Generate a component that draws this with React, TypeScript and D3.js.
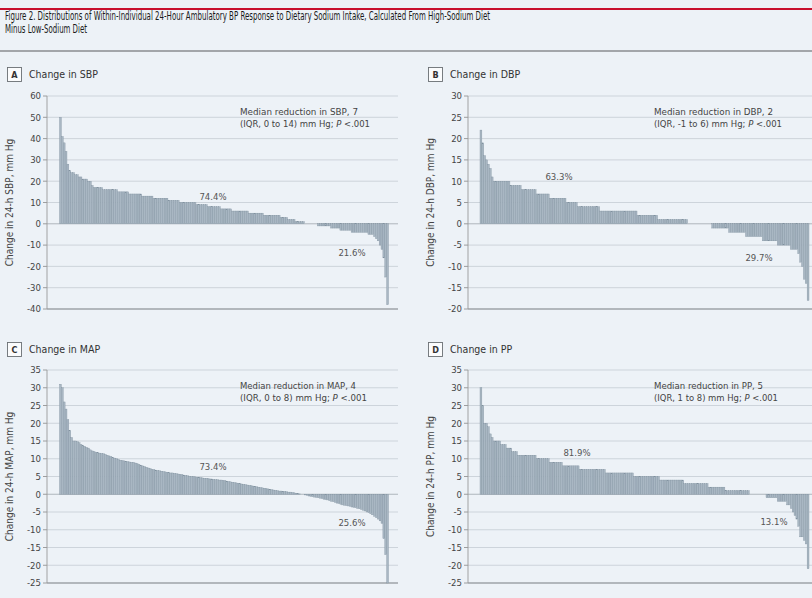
import React from 'react';
import * as d3 from 'd3';

const FONT = "'Liberation Sans Narrow', 'DejaVu Sans Condensed', 'Open Sans', sans-serif";

const titleLines = [
  'Figure 2. Distributions of Within-Individual 24-Hour Ambulatory BP Response to Dietary Sodium Intake, Calculated From High-Sodium Diet',
  'Minus Low-Sodium Diet',
];

const sbpTicks = [60, 50, 40, 30, 20, 10, 0, -10, -20, -30, -40];
const dbpTicks = [30, 25, 20, 15, 10, 5, 0, -5, -10, -15, -20];
const mapTicks = [35, 30, 25, 20, 15, 10, 5, 0, -5, -10, -15, -20, -25];
const ppTicks = [35, 30, 25, 20, 15, 10, 5, 0, -5, -10, -15, -20, -25];

const sbpValues = [
  50, 41, 38, 34, 28, 25, 24, 24, 23, 23, 22, 22, 21, 21, 21, 20, 20, 18, 17, 17, 17, 17, 17,
  16, 16, 16, 16, 16, 16, 16, 16, 15, 15, 15, 15, 15, 15,
  14, 14, 14, 14, 14, 14, 14,
  13, 13, 13, 13, 13, 13,
  12, 12, 12, 12, 12, 12, 12, 12,
  11, 11, 11, 11, 11, 11,
  10, 10, 10, 10, 10, 10, 10, 10, 10,
  9, 9, 9, 9, 9, 9,
  8, 8, 8, 8, 8, 8, 8,
  7, 7, 7, 7, 7, 7,
  6, 6, 6, 6, 6, 6, 6, 6, 6,
  5, 5, 5, 5, 5, 5, 5, 5,
  4, 4, 4, 4, 4, 4, 4, 4, 4,
  3, 3, 3, 3,
  2, 2, 2, 2,
  1, 1, 1, 1, 1,
  0, 0, 0, 0, 0, 0, 0,
  -1, -1, -1, -1, -1, -1, -1, -2, -2, -2, -2, -2, -3, -3, -3, -3, -3, -3,
  -4, -4, -4, -4, -4, -4, -4, -4, -4, -5, -5, -5, -6, -7, -8, -10, -12, -16, -25, -38,
];

const dbpValues = [
  22, 19, 16, 15, 14, 13, 11,
  10, 10, 10, 10, 10, 10, 10, 10, 10,
  9, 9, 9, 9, 9, 9,
  8, 8, 8, 8, 8, 8, 8, 8,
  7, 7, 7, 7, 7, 7, 7,
  6, 6, 6, 6, 6, 6, 6, 6, 6,
  5, 5, 5, 5, 5, 5,
  4, 4, 4, 4, 4, 4, 4, 4, 4, 4, 4, 4,
  3, 3, 3, 3, 3, 3, 3, 3, 3, 3, 3, 3, 3, 3, 3, 3, 3, 3, 3, 3,
  2, 2, 2, 2, 2, 2, 2, 2, 2, 2, 2,
  1, 1, 1, 1, 1, 1, 1, 1, 1, 1, 1, 1, 1, 1, 1, 1,
  0, 0, 0, 0, 0, 0, 0, 0, 0, 0, 0, 0, 0,
  -1, -1, -1, -1, -1, -1, -1, -1, -1,
  -2, -2, -2, -2, -2, -2, -2, -2, -2,
  -3, -3, -3, -3, -3, -3, -3, -3, -3,
  -4, -4, -4, -4, -4, -4, -4, -4,
  -5, -5, -5, -5, -5, -5, -5,
  -6, -6, -6, -6, -7, -9, -10, -13, -14, -18,
];

const mapValues = [
  31, 30, 26, 24, 21, 18, 16, 15, 15, 14.8, 14.5, 14, 13.8, 13.5, 13.2, 13, 12.5, 12.2, 12,
  11.8, 11.7, 11.6, 11.5, 11.4, 11.2, 11, 10.8, 10.6, 10.4, 10.2, 10, 9.8, 9.6, 9.5, 9.4, 9.3,
  9.2, 9.1, 9, 9, 8.8, 8.6, 8.4, 8.2, 8, 7.8, 7.6, 7.4, 7.2, 7, 6.9, 6.8, 6.7, 6.6, 6.5, 6.4,
  6.3, 6.2, 6.1,
  6, 6, 5.9, 5.8, 5.7, 5.6, 5.5, 5.4, 5.3, 5.2, 5.1, 5, 5, 4.9, 4.8, 4.8, 4.7, 4.6, 4.5, 4.5,
  4.4, 4.3, 4.3, 4.2, 4.1, 4.1, 4, 4, 3.9, 3.8, 3.7, 3.6, 3.5, 3.4, 3.3, 3.2, 3.1, 3, 2.9, 2.8,
  2.7, 2.6, 2.5, 2.4, 2.3, 2.2, 2.1, 2, 1.9, 1.8, 1.7, 1.6, 1.5, 1.4, 1.3, 1.2, 1.1, 1, 0.9,
  0.9, 0.8, 0.8, 0.7, 0.6, 0.6, 0.5, 0.4, 0.3, 0.2, 0.1,
  0, 0,
  -0.2, -0.3, -0.5, -0.6, -0.7, -0.8, -0.9, -1, -1.1, -1.2, -1.4, -1.5, -1.6, -1.8, -2, -2.1,
  -2.3, -2.5, -2.6, -2.8, -3, -3.1, -3.2, -3.3, -3.4, -3.6, -3.7, -3.8, -4, -4.1, -4.3, -4.5,
  -4.7, -5, -5.2, -5.5, -5.8, -6.2, -6.6, -7, -7.5, -8.2, -12.5, -17, -25,
];

const ppValues = [
  30, 25, 20, 20, 19, 17, 16,
  15, 15, 15, 15,
  14, 14, 14,
  13, 13, 13,
  12, 12, 12,
  11, 11, 11, 11, 11, 11, 11, 11, 11, 11,
  10, 10, 10, 10, 10, 10, 10,
  9, 9, 9, 9, 9, 9, 9,
  8, 8, 8, 8, 8, 8, 8, 8, 8,
  7, 7, 7, 7, 7, 7, 7, 7, 7, 7, 7, 7, 7, 7,
  6, 6, 6, 6, 6, 6, 6, 6, 6, 6, 6, 6, 6, 6, 6,
  5, 5, 5, 5, 5, 5, 5, 5, 5, 5, 5, 5, 5, 5,
  4, 4, 4, 4, 4, 4, 4, 4, 4, 4, 4, 4, 4,
  3, 3, 3, 3, 3, 3, 3, 3, 3, 3, 3, 3, 3,
  2, 2, 2, 2, 2, 2, 2, 2, 2,
  1, 1, 1, 1, 1, 1, 1, 1, 1, 1, 1, 1, 1,
  0, 0, 0, 0, 0, 0, 0, 0, 0,
  -1, -1, -1, -1, -1, -1, -2, -2, -2, -2, -2,
  -3, -3, -4, -5, -6, -7, -9, -12, -12, -13, -14, -21,
];

const panels = [
  {
    letter: 'A', title: 'Change in SBP', yLabel: 'Change in 24-h SBP, mm Hg',
    values: sbpValues, ticks: sbpTicks,
    median: 'Median reduction in SBP, 7', iqr: '(IQR, 0 to 14) mm Hg; ',
    pos: '74.4%', neg: '21.6%',
    axisX: 47, gridRight: 398, barLeft: 59.5, barRight: 388.5, yTop: 96, yBottom: 309,
    annX: 240, annW1: 118, annW2: 130, posXY: [213, 200], negXY: [352, 256], headerY: 67,
  },
  {
    letter: 'B', title: 'Change in DBP', yLabel: 'Change in 24-h DBP, mm Hg',
    values: dbpValues, ticks: dbpTicks,
    median: 'Median reduction in DBP, 2', iqr: '(IQR, -1 to 6) mm Hg; ',
    pos: '63.3%', neg: '29.7%',
    axisX: 468, gridRight: 812, barLeft: 480, barRight: 809, yTop: 96, yBottom: 309,
    annX: 654, annW1: 119, annW2: 128, posXY: [559, 180], negXY: [759, 261], headerY: 67,
  },
  {
    letter: 'C', title: 'Change in MAP', yLabel: 'Change in 24-h MAP, mm Hg',
    values: mapValues, ticks: mapTicks,
    median: 'Median reduction in MAP, 4', iqr: '(IQR, 0 to 8) mm Hg; ',
    pos: '73.4%', neg: '25.6%',
    axisX: 47, gridRight: 398, barLeft: 59.5, barRight: 388.5, yTop: 370, yBottom: 583,
    annX: 240, annW1: 116, annW2: 127, posXY: [213, 470], negXY: [352, 526], headerY: 342,
  },
  {
    letter: 'D', title: 'Change in PP', yLabel: 'Change in 24-h PP, mm Hg',
    values: ppValues, ticks: ppTicks,
    median: 'Median reduction in PP, 5', iqr: '(IQR, 1 to 8) mm Hg; ',
    pos: '81.9%', neg: '13.1%',
    axisX: 468, gridRight: 812, barLeft: 480, barRight: 809, yTop: 370, yBottom: 583,
    annX: 654, annW1: 109, annW2: 124, posXY: [577, 456], negXY: [774, 525], headerY: 342,
  },
];

function Panel({ p }: { p: any }) {
  const tMax = d3.max(p.ticks as number[]) as number;
  const tMin = d3.min(p.ticks as number[]) as number;
  const y = d3.scaleLinear().domain([tMin, tMax]).range([p.yBottom, p.yTop]);
  const x = d3
    .scaleBand<number>()
    .domain(d3.range(p.values.length))
    .range([p.barLeft, p.barRight])
    .padding(0);
  const y0 = y(0);
  const midY = (p.yTop + p.yBottom) / 2;
  const bx = p.axisX - 40;
  return (
    <g>
      {/* header */}
      <rect x={bx + 0.5} y={p.headerY + 0.5} width={14} height={14} fill="#fbfcfd" stroke="#6b6f73" strokeWidth={0.9} />
      <text x={bx + 7.5} y={p.headerY + 11} textAnchor="middle" fontSize={9} fontWeight={700} fill="#333">
        {p.letter}
      </text>
      <text x={bx + 22} y={p.headerY + 11} fontSize={10.5} fill="#333">
        {p.title}
      </text>
      {/* grid */}
      {p.ticks.map((t: number) => (
        <line
          key={'g' + t}
          x1={p.axisX}
          x2={p.gridRight}
          y1={y(t)}
          y2={y(t)}
          stroke={t === tMin ? '#9ea3a8' : t === 0 ? '#a8afb6' : '#c9d0d7'}
          strokeWidth={t === tMin ? 1.3 : 0.9}
        />
      ))}
      {/* ticks */}
      {p.ticks.map((t: number) => (
        <g key={'t' + t}>
          <line x1={p.axisX - 4} x2={p.axisX} y1={y(t)} y2={y(t)} stroke="#888" strokeWidth={0.8} />
          <text x={p.axisX - 6} y={y(t) + 3.3} textAnchor="end" fontSize={9.5} fill="#444">
            {t}
          </text>
        </g>
      ))}
      <line x1={p.axisX} x2={p.axisX} y1={p.yTop} y2={p.yBottom} stroke="#999" strokeWidth={0.9} />
      {/* bars */}
      {p.values.map((v: number, i: number) => (
        <rect
          key={i}
          x={x(i)}
          width={x.bandwidth()}
          y={Math.min(y(v), y0)}
          height={Math.max(Math.abs(y(v) - y0), 0)}
          fill="#a9b7c3"
          stroke="#7f909e"
          strokeWidth={0.35}
        />
      ))}
      {/* y label */}
      <text
        transform={`translate(${p.axisX - 34},${midY}) rotate(-90)`}
        textAnchor="middle"
        fontSize={10}
        fill="#444"
      >
        {p.yLabel}
      </text>
      {/* annotation */}
      <text x={p.annX} y={p.yTop + 19} fontSize={9.5} fill="#444" textLength={p.annW1} lengthAdjust="spacingAndGlyphs">
        {p.median}
      </text>
      <text x={p.annX} y={p.yTop + 30.5} fontSize={9.5} fill="#444" textLength={p.annW2} lengthAdjust="spacingAndGlyphs">
        {p.iqr}
        <tspan fontStyle="italic">P</tspan>
        {' <.001'}
      </text>
      <text x={p.posXY[0]} y={p.posXY[1]} textAnchor="middle" fontSize={9.5} fill="#555">
        {p.pos}
      </text>
      <text x={p.negXY[0]} y={p.negXY[1]} textAnchor="middle" fontSize={9.5} fill="#555">
        {p.neg}
      </text>
    </g>
  );
}

export default function App() {
  return (
    <svg
      width={812}
      height={598}
      viewBox="0 0 812 598"
      style={{ position: 'absolute', left: 0, top: 0, display: 'block', fontFamily: FONT }}
    >
      <rect x={0} y={0} width={812} height={598} fill="#edf2f7" />
      <line x1={0} x2={812} y1={9} y2={9} stroke="#c8102e" strokeWidth={2} />
      <text x={5} y={20} fontSize={12} fill="#1a1a1a" textLength={485} lengthAdjust="spacingAndGlyphs">
        {titleLines[0]}
      </text>
      <text x={5} y={33} fontSize={12} fill="#1a1a1a" textLength={82} lengthAdjust="spacingAndGlyphs">
        {titleLines[1]}
      </text>
      <line x1={0} x2={812} y1={51} y2={51} stroke="#8a8d90" strokeWidth={1.5} />
      {panels.map((p) => (
        <Panel key={p.letter} p={p} />
      ))}
    </svg>
  );
}
